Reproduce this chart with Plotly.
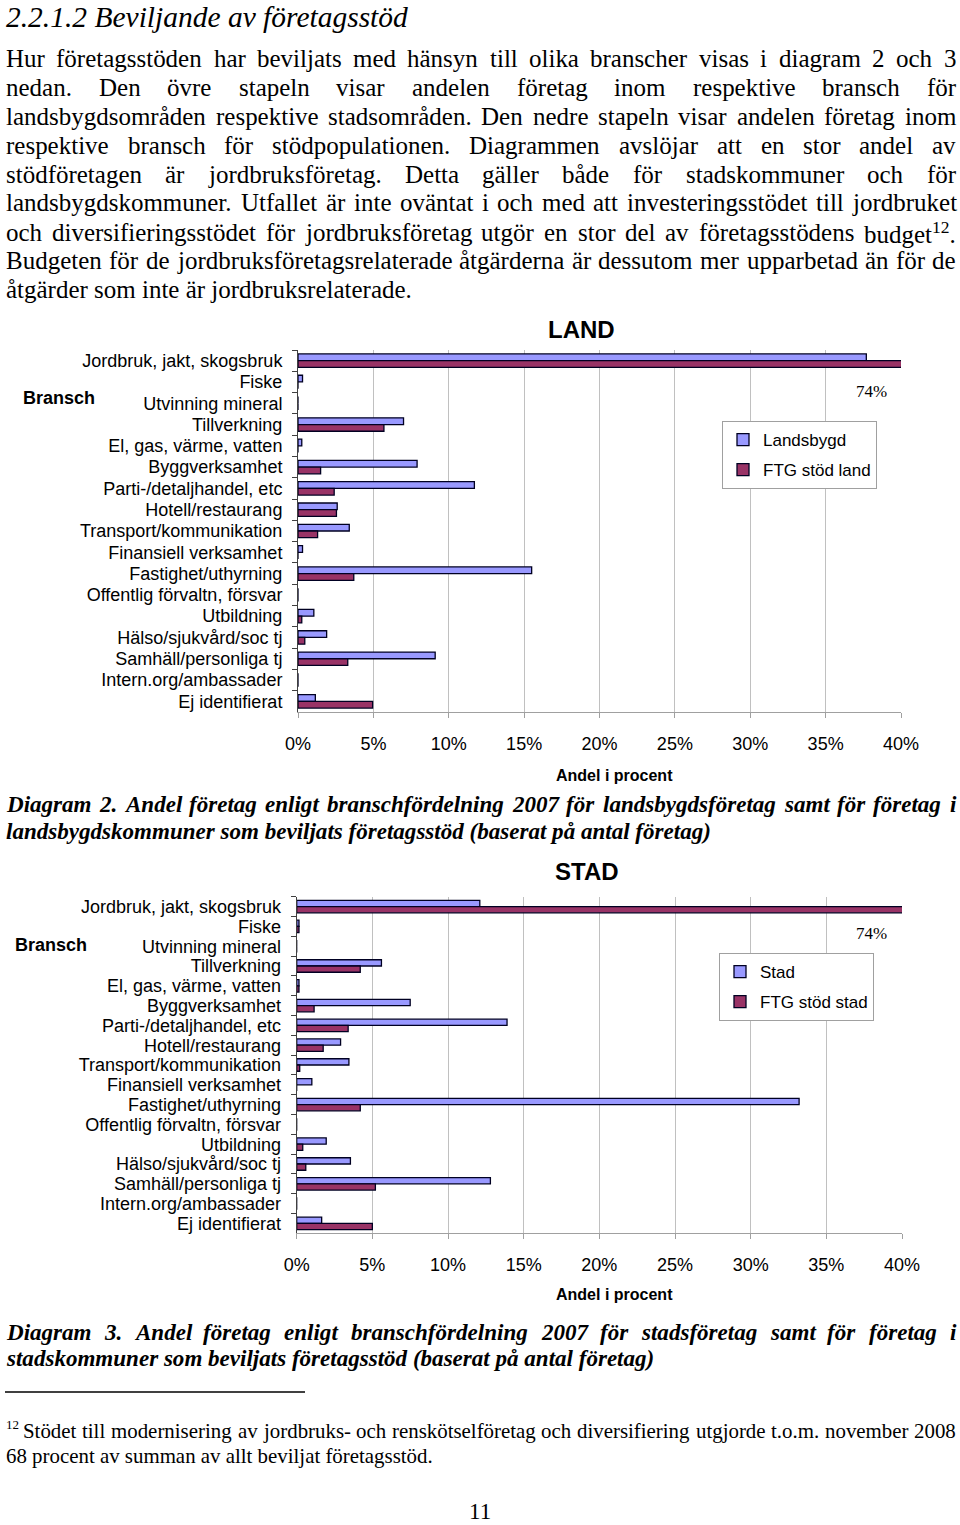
import struct, glob, os, re
import plotly.graph_objects as go

W, H = 960, 1525

# ---------------- data ----------------
categories = ["Jordbruk, jakt, skogsbruk", "Fiske", "Utvinning mineral", "Tillverkning",
              "El, gas, värme, vatten", "Byggverksamhet", "Parti-/detaljhandel, etc",
              "Hotell/restaurang", "Transport/kommunikation", "Finansiell verksamhet",
              "Fastighet/uthyrning", "Offentlig förvaltn, försvar", "Utbildning",
              "Hälso/sjukvård/soc tj", "Samhäll/personliga tj", "Intern.org/ambassader",
              "Ej identifierat"]

land_landsbygd = [37.7, 0.3, 0, 7.0, 0.25, 7.9, 11.7, 2.6, 3.4, 0.3, 15.5, 0, 1.05, 1.9, 9.1, 0, 1.15]
land_ftg = [74, 0, 0, 5.7, 0, 1.5, 2.4, 2.55, 1.3, 0, 3.7, 0, 0.25, 0.45, 3.3, 0, 4.95]

stad_stad = [12.1, 0.15, 0, 5.6, 0.15, 7.5, 13.9, 2.9, 3.45, 1.0, 33.2, 0, 1.95, 3.55, 12.8, 0, 1.65]
stad_ftg = [74, 0.15, 0, 4.2, 0.15, 1.15, 3.4, 1.75, 0.2, 0, 4.2, 0, 0.4, 0.6, 5.2, 0, 5.0]

x_ticks = [0, 5, 10, 15, 20, 25, 30, 35, 40]
x_ticklabels = ["0%", "5%", "10%", "15%", "20%", "25%", "30%", "35%", "40%"]

heading = "2.2.1.2 Beviljande av företagsstöd"
body_lines = [
    "Hur företagsstöden har beviljats med hänsyn till olika branscher visas i diagram 2 och 3",
    "nedan. Den övre stapeln visar andelen företag inom respektive bransch för",
    "landsbygdsområden respektive stadsområden. Den nedre stapeln visar andelen företag inom",
    "respektive bransch för stödpopulationen. Diagrammen avslöjar att en stor andel av",
    "stödföretagen är jordbruksföretag. Detta gäller både för stadskommuner och för",
    "landsbygdskommuner. Utfallet är inte oväntat i och med att investeringsstödet till jordbruket",
    "och diversifieringsstödet för jordbruksföretag utgör en stor del av företagsstödens budget<sup>12</sup>.",
    "Budgeten för de jordbruksföretagsrelaterade åtgärderna är dessutom mer upparbetad än för de",
    "åtgärder som inte är jordbruksrelaterade.",
]
caption2 = ["Diagram 2. Andel företag enligt branschfördelning 2007 för landsbygdsföretag samt för företag i",
            "landsbygdskommuner som beviljats företagsstöd (baserat på antal företag)"]
caption3 = ["Diagram 3. Andel företag enligt branschfördelning 2007 för stadsföretag samt för företag i",
            "stadskommuner som beviljats företagsstöd (baserat på antal företag)"]
footnote = ["Stödet till modernisering av jordbruks- och renskötselföretag och diversifiering utgjorde t.o.m. november 2008",
            "68 procent av summan av allt beviljat företagsstöd."]

# ---------------- font metrics (for justified text) ----------------
def find_font(name):
    for base in ["/usr/share/fonts", "/usr/local/share/fonts", os.path.expanduser("~/.fonts")]:
        r = glob.glob(os.path.join(base, "**", name), recursive=True)
        if r:
            return r[0]
    return None


def load_metrics(fname):
    path = find_font(fname)
    if not path:
        return None
    try:
        data = open(path, "rb").read()
        num = struct.unpack(">H", data[4:6])[0]
        tables = {}
        for i in range(num):
            rec = data[12 + 16 * i:28 + 16 * i]
            tables[rec[:4].decode("latin1")] = struct.unpack(">I", rec[8:12])[0]
        upem = struct.unpack(">H", data[tables["head"] + 18:tables["head"] + 20])[0]
        nhm = struct.unpack(">H", data[tables["hhea"] + 34:tables["hhea"] + 36])[0]
        hm = tables["hmtx"]
        adv = [struct.unpack(">H", data[hm + 4 * i:hm + 4 * i + 2])[0] for i in range(nhm)]
        co = tables["cmap"]
        nsub = struct.unpack(">H", data[co + 2:co + 4])[0]
        cmap = {}
        for i in range(nsub):
            pid, eid, so = struct.unpack(">HHI", data[co + 4 + 8 * i:co + 12 + 8 * i])
            sub = co + so
            if struct.unpack(">H", data[sub:sub + 2])[0] != 4:
                continue
            segx2 = struct.unpack(">H", data[sub + 6:sub + 8])[0]
            n = segx2 // 2
            ends = struct.unpack(">%dH" % n, data[sub + 14:sub + 14 + segx2])
            st = sub + 16 + segx2
            starts = struct.unpack(">%dH" % n, data[st:st + segx2])
            deltas = struct.unpack(">%dh" % n, data[st + segx2:st + 2 * segx2])
            ro = st + 2 * segx2
            roffs = struct.unpack(">%dH" % n, data[ro:ro + segx2])
            for s in range(n):
                for c in range(starts[s], min(ends[s], 0x2FFF) + 1):
                    if roffs[s] == 0:
                        g = (c + deltas[s]) & 0xFFFF
                    else:
                        a = ro + 2 * s + roffs[s] + 2 * (c - starts[s])
                        g = struct.unpack(">H", data[a:a + 2])[0]
                        if g:
                            g = (g + deltas[s]) & 0xFFFF
                    cmap[c] = g
            break
        if not cmap:
            return None
        return lambda ch: adv[min(cmap.get(ord(ch), 0), nhm - 1)] / upem
    except Exception:
        return None


def fallback(ch):
    return 0.25 if ch == " " else 0.45


METRICS = {}
for key, fname in [("r", "LiberationSerif-Regular.ttf"), ("i", "LiberationSerif-Italic.ttf"),
                   ("bi", "LiberationSerif-BoldItalic.ttf")]:
    METRICS[key] = load_metrics(fname) or fallback


def text_w(txt, size, key):
    f = METRICS[key]
    total = 0.0
    for part in re.split(r"(<sup>.*?</sup>)", txt):
        if part.startswith("<sup>"):
            inner = part[5:-6]
            total += 0.7 * sum(f(c) for c in inner)
        else:
            total += sum(f(c) for c in part)
    return total * size


def fit_size(txt, target, key, lo, hi):
    em = text_w(txt, 1.0, key)
    s = target / em if em > 0 else (lo + hi) / 2
    return max(lo, min(hi, s))


annotations = []


def px(x):
    return x / W


def py(y):
    return 1 - y / H


def wrap(txt, key):
    if key == "i":
        return "<i>" + txt + "</i>"
    if key == "bi":
        return "<b><i>" + txt + "</i></b>"
    return txt


def add_text(txt, x, y, size, key="r", family="Liberation Serif", xanchor="left",
             yanchor="middle", color="black"):
    annotations.append(dict(x=px(x), y=py(y), xref="paper", yref="paper", text=wrap(txt, key),
                            xanchor=xanchor, yanchor=yanchor, showarrow=False, borderpad=0,
                            font=dict(family=family, size=size, color=color)))


def add_line(txt, y, size, key="r", x0=5, x1=955, justify=True):
    if not justify:
        add_text(txt, x0, y, size, key)
        return
    words = txt.split(" ")
    widths = [text_w(w, size, key) for w in words]
    gap = (x1 - x0 - sum(widths)) / max(1, len(words) - 1)
    gap = max(gap, 0.15 * size)
    x = x0
    for w, wd in zip(words, widths):
        add_text(w, x, y, size, key)
        x += wd + gap


# heading
hs = fit_size(heading, 403, "i", 26, 31)
add_text(heading, 5, 0, hs, "i", yanchor="top")

# body paragraph
bs = fit_size(body_lines[-1], 406, "r", 23, 26.5)
body_y = [58, 87, 116, 145, 174, 203, 232, 261, 290]
for i, (ln, yy) in enumerate(zip(body_lines, body_y)):
    add_line(ln, yy, bs, "r", justify=(i < len(body_lines) - 1))

# captions
cs = fit_size(caption2[1], 705, "bi", 19, 24)
add_line(caption2[0], 804, cs, "bi")
add_line(caption2[1], 831, cs, "bi", justify=False)
add_line(caption3[0], 1332, cs, "bi")
add_line(caption3[1], 1358, cs, "bi", justify=False)

# footnote
fs = fit_size(footnote[1], 427, "r", 17, 22)
add_text("12", 5, 1424, 13, "r")
add_line(footnote[0], 1431, fs, "r", x0=22, x1=955)
add_line(footnote[1], 1456, fs, "r", justify=False)

# page number
add_text("11", 480, 1525, 23, "r", xanchor="center", yanchor="bottom")

# chart texts
SANS = "Liberation Sans"
for title, cx, cy in [("LAND", 581, 329), ("STAD", 587, 872)]:
    annotations.append(dict(x=px(cx), y=py(cy), xref="paper", yref="paper", text="<b>" + title + "</b>",
                            showarrow=False, xanchor="center", yanchor="middle",
                            font=dict(family=SANS, size=24, color="black")))
for cx, cy in [(59, 398), (51, 945)]:
    annotations.append(dict(x=px(cx), y=py(cy), xref="paper", yref="paper", text="<b>Bransch</b>",
                            showarrow=False, xanchor="center", yanchor="middle",
                            font=dict(family=SANS, size=18, color="black")))
for cx, cy in [(614, 775), (614, 1294)]:
    annotations.append(dict(x=px(cx), y=py(cy), xref="paper", yref="paper", text="<b>Andel i procent</b>",
                            showarrow=False, xanchor="center", yanchor="middle",
                            font=dict(family=SANS, size=16, color="black")))
for cx, cy in [(871, 392), (871, 934)]:
    annotations.append(dict(x=px(cx), y=py(cy), xref="paper", yref="paper", text="74%",
                            showarrow=False, xanchor="center", yanchor="middle",
                            font=dict(family="Liberation Serif", size=17, color="black")))

# ---------------- figure ----------------
BLUE = "#9999FF"
PLUM = "#993366"
OUTL = dict(color="#000022", width=1.3)

fig = go.Figure()
fig.add_trace(go.Bar(y=categories, x=land_landsbygd, orientation="h", name="Landsbygd",
                     marker=dict(color=BLUE, line=OUTL), xaxis="x", yaxis="y",
                     legend="legend", legendgroup="a"))
fig.add_trace(go.Bar(y=categories, x=land_ftg, orientation="h", name="FTG stöd land",
                     marker=dict(color=PLUM, line=OUTL), xaxis="x", yaxis="y",
                     legend="legend", legendgroup="b"))
fig.add_trace(go.Bar(y=categories, x=stad_stad, orientation="h", name="Stad",
                     marker=dict(color=BLUE, line=OUTL), xaxis="x2", yaxis="y2",
                     legend="legend2", legendgroup="c"))
fig.add_trace(go.Bar(y=categories, x=stad_ftg, orientation="h", name="FTG stöd stad",
                     marker=dict(color=PLUM, line=OUTL), xaxis="x2", yaxis="y2",
                     legend="legend2", legendgroup="d"))


def xaxis_cfg(domain, anchor):
    return dict(domain=domain, anchor=anchor, range=[0, 40], tickmode="array",
                tickvals=x_ticks, ticktext=x_ticklabels, showgrid=True, gridcolor="#c0c0c0",
                gridwidth=1, showline=True, linecolor="#a0a0a0", linewidth=1, ticks="outside",
                ticklen=5, tickcolor="#a0a0a0", zeroline=False, ticklabelstandoff=10,
                tickfont=dict(family=SANS, size=18, color="black"), fixedrange=True,
                automargin=False)


def yaxis_cfg(domain, anchor):
    return dict(domain=domain, anchor=anchor, type="category", categoryorder="array",
                categoryarray=categories, autorange="reversed", tickmode="array",
                tickvals=categories, ticktext=categories, showline=True,
                linecolor="#404040", linewidth=1, ticks="outside", ticklen=5,
                tickcolor="#404040", tickson="boundaries", showgrid=False, zeroline=False,
                ticklabelstandoff=11, tickfont=dict(family=SANS, size=18, color="black"),
                fixedrange=True, automargin=False)


def legend_cfg(x, y):
    return dict(x=px(x), y=py(y), xanchor="left", yanchor="top", bgcolor="white",
                bordercolor="#a0a0a0", borderwidth=1, traceorder="grouped", tracegroupgap=5,
                itemwidth=30, font=dict(family=SANS, size=17, color="black"))


fig.update_layout(
    width=W, height=H, autosize=False, margin=dict(l=0, r=0, t=0, b=0, pad=0, autoexpand=False),
    paper_bgcolor="white", plot_bgcolor="white",
    barmode="group", bargap=0.37, bargroupgap=0,
    xaxis=xaxis_cfg([298 / W, 901 / W], "y"),
    yaxis=yaxis_cfg([py(712), py(350)], "x"),
    xaxis2=xaxis_cfg([296.7 / W, 902 / W], "y2"),
    yaxis2=yaxis_cfg([py(1233.3), py(896.7)], "x2"),
    legend=legend_cfg(722, 421),
    legend2=legend_cfg(719, 953),
    annotations=annotations,
    shapes=[dict(type="line", xref="paper", yref="paper", x0=px(5), x1=px(305),
                 y0=py(1392), y1=py(1392), line=dict(color="black", width=1.5))],
    showlegend=True,
)

fig.write_html("out.html", config={"responsive": False, "displayModeBar": False},
               post_script="document.body.style.margin='0';document.body.style.overflow='hidden';")
